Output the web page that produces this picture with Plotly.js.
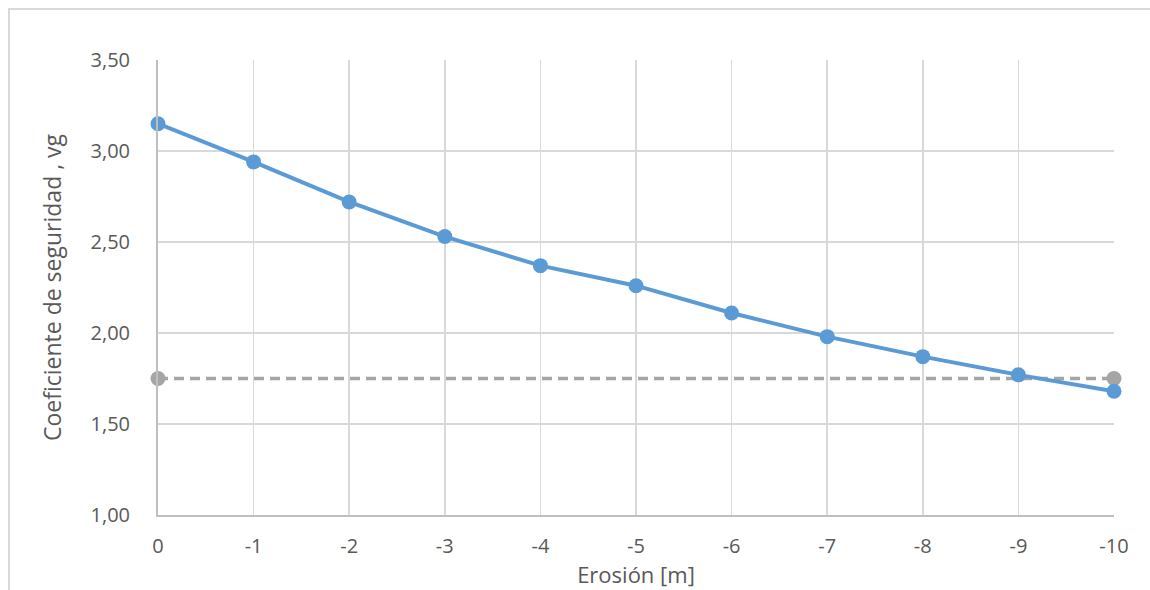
<!DOCTYPE html>
<html>
<head>
<meta charset="utf-8">
<script src="https://cdn.plot.ly/plotly-3.0.1.min.js"></script>
<style>
  html, body { margin: 0; padding: 0; background: #fff; }
  #wrap { position: relative; width: 1150px; height: 590px; overflow: hidden; }
  #chart { width: 1150px; height: 590px; }
  #frame { position: absolute; left: 8px; top: 8px; width: 1200px; height: 700px;
           border-top: 2px solid #D9D9D9; border-left: 2px solid #D9D9D9; pointer-events: none; }
</style>
</head>
<body>
<div id="wrap">
  <div id="chart"></div>
  <div id="frame"></div>
</div>
<script>
const erosion = [0, -1, -2, -3, -4, -5, -6, -7, -8, -9, -10];
const factorSeguridad = [3.15, 2.94, 2.72, 2.53, 2.37, 2.26, 2.11, 1.98, 1.87, 1.77, 1.68];
const limiteX = [0, -10];
const limiteY = [1.75, 1.75];
const xTickLabels = ['0', '-1', '-2', '-3', '-4', '-5', '-6', '-7', '-8', '-9', '-10'];
const yTickVals = [1.00, 1.50, 2.00, 2.50, 3.00, 3.50];

const font = 'Open Sans, Lato, sans-serif';

const traces = [
  {
    x: limiteX, y: limiteY, type: 'scatter', mode: 'lines+markers',
    line: { color: '#A5A5A5', width: 3.5, dash: '10px,6px' },
    marker: { color: '#A5A5A5', size: 15 },
    cliponaxis: false, hoverinfo: 'skip', showlegend: false
  },
  {
    x: erosion, y: factorSeguridad, type: 'scatter', mode: 'lines+markers',
    line: { color: '#5B9BD5', width: 4 },
    marker: { color: '#5B9BD5', size: 15 },
    cliponaxis: false, showlegend: false
  }
];

const layout = {
  width: 1150, height: 590,
  margin: { l: 158, r: 36, t: 60, b: 75 },
  paper_bgcolor: '#fff', plot_bgcolor: '#fff',
  separators: ',.',
  font: { family: font, color: '#595959', size: 20 },
  xaxis: {
    range: [0, -10],
    tickvals: erosion, ticktext: xTickLabels,
    showgrid: true, gridcolor: '#D9D9D9', gridwidth: 1.5,
    zeroline: false,
    showline: true, linecolor: '#BFBFBF', linewidth: 2, mirror: false,
    ticks: '', ticklabelstandoff: 12,
    tickfont: { family: font, size: 20, color: '#595959' },
    title: { text: 'Erosión [m]', font: { family: font, size: 22, color: '#595959' }, standoff: 3 }
  },
  yaxis: {
    range: [1.00, 3.50],
    tickvals: yTickVals, tickformat: '.2f',
    showgrid: true, gridcolor: '#D9D9D9', gridwidth: 1.5,
    zeroline: false,
    showline: true, linecolor: '#BFBFBF', linewidth: 2,
    ticks: '', ticklabelstandoff: 22,
    tickfont: { family: font, size: 20, color: '#595959' },
    title: { text: 'Coeficiente de seguridad , vg', font: { family: font, size: 23, color: '#595959' }, standoff: 22 }
  }
};

Plotly.newPlot('chart', traces, layout, { displayModeBar: false, staticPlot: true });
</script>
</body>
</html>
